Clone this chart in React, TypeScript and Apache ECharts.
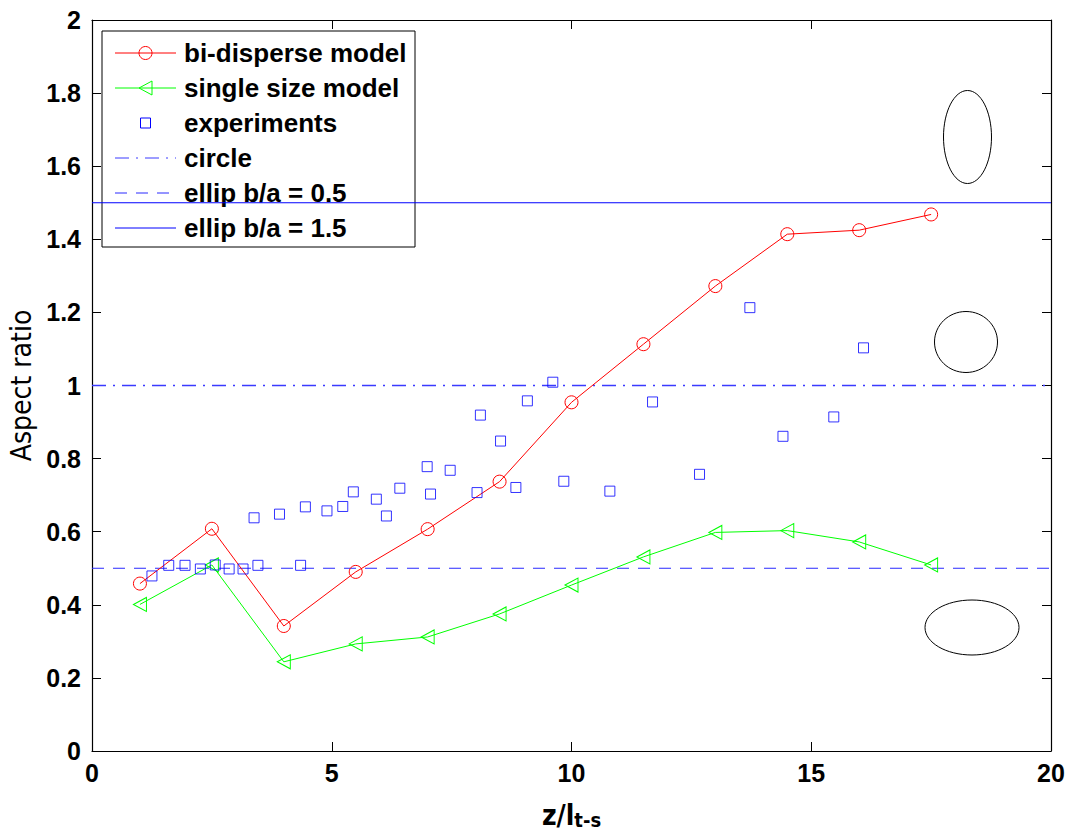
import React, { useEffect, useRef } from "react";
import * as echarts from "echarts";

// ---- data ----
const xTicks = [0, 5, 10, 15, 20];
const yTicks = [0, 0.2, 0.4, 0.6, 0.8, 1, 1.2, 1.4, 1.6, 1.8, 2];

const modelX = [1, 2.5, 4, 5.5, 7, 8.5, 10, 11.5, 13, 14.5, 16, 17.5];
const biDisperseY = [0.458, 0.608, 0.342, 0.49, 0.607, 0.737, 0.954, 1.113, 1.272, 1.414, 1.425, 1.468];
const singleSizeY = [0.401, 0.509, 0.244, 0.293, 0.312, 0.375, 0.454, 0.531, 0.598, 0.603, 0.572, 0.509];

const expX = [
  1.25, 1.6, 1.94, 2.26, 2.57, 2.86, 3.15, 3.38, 3.46, 3.91, 4.35, 4.45, 4.9, 5.23, 5.45, 5.93, 6.14, 6.42,
  6.99, 7.06, 7.47, 8.03, 8.1, 8.52, 8.84, 9.08, 9.61, 9.84, 10.8, 11.69, 12.67, 13.72, 14.41, 15.47, 16.09,
];
const expY = [
  0.479, 0.508, 0.508, 0.498, 0.509, 0.498, 0.498, 0.638, 0.508, 0.648, 0.508, 0.668, 0.657, 0.669, 0.709, 0.689,
  0.643, 0.719, 0.778, 0.703, 0.768, 0.707, 0.919, 0.848, 0.721, 0.958, 1.009, 0.738, 0.711, 0.955, 0.757, 1.213,
  0.861, 0.914, 1.103,
];

const refSpanX = [0, 20];
const circleLevel = 1;
const ellipLowLevel = 0.5;
const ellipHighLevel = 1.5;

const legendNames = [
  "bi-disperse model",
  "single size model",
  "experiments",
  "circle",
  "ellip b/a = 0.5",
  "ellip b/a = 1.5",
];

const RED = "#ff0000";
const GREEN = "#00ff00";
const BLUE = "#0000ff";
const DASHDOT_BLUE = "#3a3aff";
const DASH_BLUE = "#2a2aff";
const DASHDOT = [14, 7, 2, 7];
const DASH = [12, 9];
const TICK_FONT = "Liberation Sans, Arial, sans-serif";
const NARROW_FONT = "Liberation Sans Narrow, DejaVu Sans Condensed, Liberation Sans, sans-serif";

function buildLegend() {
  const x0 = 115;
  const x1 = 176;
  const cx = (x0 + x1) / 2;
  const rows = [53, 88, 123, 158, 193, 228];
  const els: any[] = [
    {
      type: "rect",
      shape: { x: 102, y: 31, width: 313, height: 216 },
      style: { fill: "#fff", stroke: "#000", lineWidth: 1 },
    },
  ];
  const line = (y: number, color: string, dash: any) => ({
    type: "line",
    shape: { x1: x0, y1: y, x2: x1, y2: y },
    style: { stroke: color, lineWidth: 1, lineDash: dash ? dash.slice() : null },
  });
  els.push(line(rows[0], RED, null));
  els.push({ type: "circle", shape: { cx, cy: rows[0], r: 6.5 }, style: { fill: "none", stroke: RED, lineWidth: 1 } });
  els.push(line(rows[1], GREEN, null));
  els.push({
    type: "polygon",
    shape: { points: [[cx - 6.5, rows[1]], [cx + 6.5, rows[1] - 7], [cx + 6.5, rows[1] + 7]] },
    style: { fill: "none", stroke: GREEN, lineWidth: 1 },
  });
  els.push({
    type: "rect",
    shape: { x: cx - 5, y: rows[2] - 5, width: 10, height: 10 },
    style: { fill: "none", stroke: BLUE, lineWidth: 1 },
  });
  els.push(line(rows[3], DASHDOT_BLUE, DASHDOT));
  els.push(line(rows[4], DASH_BLUE, DASH));
  els.push(line(rows[5], BLUE, null));
  legendNames.forEach((name, i) => {
    els.push({
      type: "text",
      x: 184,
      y: rows[i],
      style: {
        text: name,
        fill: "#000",
        font: `bold 26px ${TICK_FONT}`,
        verticalAlign: "middle",
        align: "left",
      },
    });
  });
  return { type: "group", z: 100, children: els };
}

function buildShapes() {
  const s = { fill: "none", stroke: "#000", lineWidth: 1 };
  return [
    { type: "ellipse", z: 50, shape: { cx: 967.5, cy: 137, rx: 24, ry: 46.5 }, style: { ...s } },
    { type: "ellipse", z: 50, shape: { cx: 966, cy: 342, rx: 31.5, ry: 30.5 }, style: { ...s } },
    { type: "ellipse", z: 50, shape: { cx: 972, cy: 627.5, rx: 47, ry: 27.5 }, style: { ...s } },
  ];
}

export default function App() {
  const ref = useRef<HTMLDivElement>(null);

  useEffect(() => {
    document.body.style.margin = "0";
    const chart = echarts.init(ref.current!, null, { renderer: "svg" });

    const axisLine = { show: true, onZero: false, lineStyle: { color: "#000", width: 1.2 } };
    const axisTick = { show: true, inside: true, length: 9, lineStyle: { color: "#000", width: 1 } };
    const tickLabel = {
      color: "#000",
      fontFamily: TICK_FONT,
      fontWeight: "bold" as const,
      fontSize: 25,
    };

    const refLine = (level: number, dash: any, color: string, width: number) => ({
      type: "line",
      data: refSpanX.map((x) => [x, level]),
      symbol: "none",
      silent: true,
      color,
      itemStyle: { color },
      lineStyle: { color, width, type: Array.isArray(dash) ? dash.slice() : dash, opacity: 1 },
      z: 1,
    });

    const option: any = {
      animation: false,
      backgroundColor: "#fff",
      grid: {
        left: 92,
        top: 20,
        right: 29,
        bottom: 85,
        containLabel: false,
        outerBoundsMode: "none",
      },
      xAxis: [
        {
          type: "value",
          min: xTicks[0],
          max: xTicks[xTicks.length - 1],
          interval: xTicks[1] - xTicks[0],
          position: "bottom",
          axisLine,
          axisTick,
          splitLine: { show: false },
          axisLabel: { ...tickLabel, margin: 9 },
          name: "{m|z/l}{s|t-s}",
          nameLocation: "middle",
          nameGap: 44,
          nameTextStyle: {
            rich: {
              m: {
                fontFamily: NARROW_FONT,
                fontWeight: "bold",
                fontSize: 28,
                lineHeight: 28,
                verticalAlign: "top",
                color: "#000",
              },
              s: {
                fontFamily: NARROW_FONT,
                fontWeight: "bold",
                fontSize: 20,
                lineHeight: 20,
                padding: [20, 0, 0, 0],
                verticalAlign: "bottom",
                color: "#000",
              },
            },
          },
        },
        {
          type: "value",
          min: xTicks[0],
          max: xTicks[xTicks.length - 1],
          interval: xTicks[1] - xTicks[0],
          position: "top",
          axisLine,
          axisTick,
          splitLine: { show: false },
          axisLabel: { show: false },
        },
      ],
      yAxis: [
        {
          type: "value",
          min: yTicks[0],
          max: yTicks[yTicks.length - 1],
          interval: 0.2,
          position: "left",
          axisLine,
          axisTick,
          splitLine: { show: false },
          axisLabel: { ...tickLabel, margin: 11 },
          name: "Aspect ratio",
          nameLocation: "middle",
          nameRotate: 90,
          nameGap: 54,
          nameTextStyle: {
            fontFamily: NARROW_FONT,
            fontSize: 28,
            color: "#000",
          },
        },
        {
          type: "value",
          min: yTicks[0],
          max: yTicks[yTicks.length - 1],
          interval: 0.2,
          position: "right",
          axisLine,
          axisTick,
          splitLine: { show: false },
          axisLabel: { show: false },
        },
      ],
      series: [
        refLine(ellipHighLevel, "solid", BLUE, 1),
        refLine(circleLevel, DASHDOT, DASHDOT_BLUE, 1.6),
        refLine(ellipLowLevel, DASH, DASH_BLUE, 1),
        {
          type: "line",
          name: legendNames[1],
          data: modelX.map((x, i) => [x, singleSizeY[i]]),
          symbol: "triangle",
          symbolRotate: 90,
          symbolSize: [14, 13],
          lineStyle: { color: GREEN, width: 1 },
          itemStyle: { color: "rgba(0,0,0,0)", borderColor: GREEN, borderWidth: 1 },
          z: 3,
        },
        {
          type: "line",
          name: legendNames[0],
          data: modelX.map((x, i) => [x, biDisperseY[i]]),
          symbol: "circle",
          symbolSize: 13,
          lineStyle: { color: RED, width: 1 },
          itemStyle: { color: "rgba(0,0,0,0)", borderColor: RED, borderWidth: 1 },
          z: 4,
        },
        {
          type: "scatter",
          name: legendNames[2],
          data: expX.map((x, i) => [x, expY[i]]),
          symbol: "rect",
          symbolSize: 10,
          itemStyle: { color: "rgba(0,0,0,0)", borderColor: BLUE, borderWidth: 1 },
          z: 5,
        },
      ],
      graphic: [...buildShapes(), buildLegend()],
    };

    chart.setOption(option);
    return () => chart.dispose();
  }, []);

  return <div ref={ref} style={{ width: 1080, height: 836 }} />;
}
